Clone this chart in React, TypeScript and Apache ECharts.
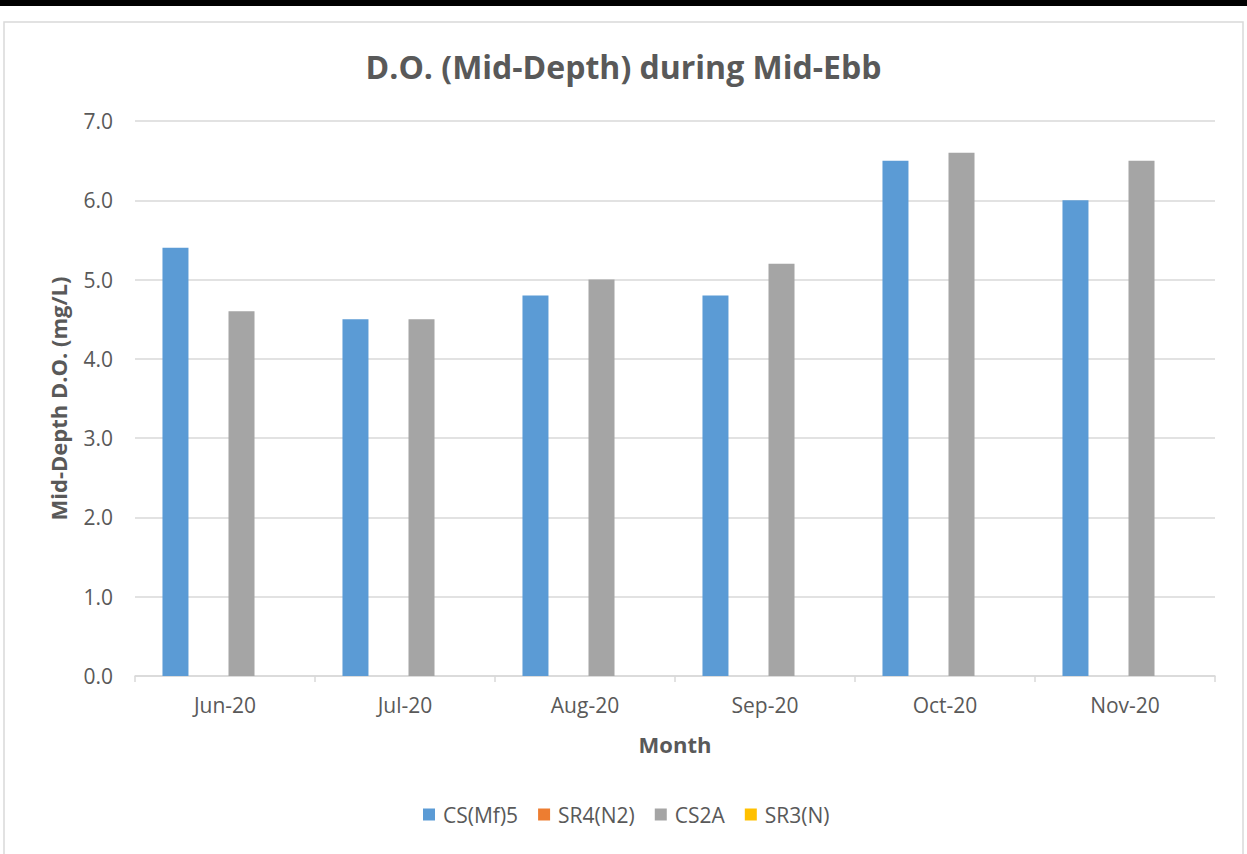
import React, { useEffect, useRef } from "react";
import * as echarts from "echarts";

const months = ["Jun-20", "Jul-20", "Aug-20", "Sep-20", "Oct-20", "Nov-20"];
const csMf5 = [5.4, 4.5, 4.8, 4.8, 6.5, 6.0];
const sr4N2: (number | null)[] = [null, null, null, null, null, null];
const cs2A = [4.6, 4.5, 5.0, 5.2, 6.6, 6.5];
const sr3N: (number | null)[] = [null, null, null, null, null, null];
const yTicks = [0, 1, 2, 3, 4, 5, 6, 7];

const FONT = "Open Sans";
const TXT = "#595959";

export default function App() {
  const ref = useRef<HTMLDivElement>(null);
  useEffect(() => {
    if (!ref.current) return;
    const chart = echarts.init(ref.current, undefined, { renderer: "svg" });
    const mk = (name: string, data: (number | null)[], color: string) => ({
      name,
      type: "bar",
      data,
      barWidth: 26,
      barGap: "27%",
      itemStyle: { color },
    });
    chart.setOption({
      animation: false,
      backgroundColor: "#ffffff",
      textStyle: { fontFamily: FONT },
      graphic: [
        { type: "rect", shape: { x: 0, y: 0, width: 1247, height: 6 }, style: { fill: "#000000" } },
        {
          type: "rect",
          shape: { x: 4, y: 22, width: 1239, height: 900 },
          style: { fill: "none", stroke: "#d9d9d9", lineWidth: 1.5 },
        },
      ],
      title: {
        text: "D.O. (Mid-Depth) during Mid-Ebb",
        left: "center",
        top: 45,
        textStyle: { fontFamily: FONT, fontSize: 32, fontWeight: "bold", color: TXT },
      },
      legend: {
        bottom: 24,
        left: 418,
        itemWidth: 12,
        itemHeight: 12,
        itemGap: 20,
        icon: "rect",
        textStyle: { fontFamily: FONT, fontSize: 21, color: TXT, padding: [0, 0, 0, 3] },
        data: ["CS(Mf)5", "SR4(N2)", "CS2A", "SR3(N)"],
      },
      grid: { left: 135, right: 32, top: 121, bottom: 178, containLabel: false },
      xAxis: {
        type: "category",
        data: months,
        name: "Month",
        nameLocation: "middle",
        nameGap: 57,
        nameTextStyle: { fontFamily: FONT, fontSize: 22, fontWeight: "bold", color: TXT },
        axisLine: { lineStyle: { color: "#d9d9d9", width: 1.5 } },
        axisTick: { show: true, length: 6, lineStyle: { color: "#d9d9d9", width: 1.5 } },
        axisLabel: { fontFamily: FONT, fontSize: 21, color: TXT, margin: 18 },
      },
      yAxis: {
        type: "value",
        min: 0,
        max: 7,
        interval: 1,
        name: "Mid-Depth D.O. (mg/L)",
        nameLocation: "middle",
        nameGap: 66,
        nameRotate: 90,
        nameTextStyle: { fontFamily: FONT, fontSize: 22, fontWeight: "bold", color: TXT },
        axisLine: { show: false },
        axisTick: { show: false },
        splitLine: { lineStyle: { color: "#d9d9d9", width: 1.5 } },
        axisLabel: {
          fontFamily: FONT,
          fontSize: 21,
          color: TXT,
          margin: 22,
          formatter: (v: number) => (yTicks.includes(v) ? v.toFixed(1) : ""),
        },
      },
      series: [
        mk("CS(Mf)5", csMf5, "#5b9bd5"),
        mk("SR4(N2)", sr4N2, "#ed7d31"),
        mk("CS2A", cs2A, "#a5a5a5"),
        mk("SR3(N)", sr3N, "#ffc000"),
      ],
    });
    return () => chart.dispose();
  }, []);
  return (
    <div
      ref={ref}
      style={{ position: "fixed", left: 0, top: 0, width: 1247, height: 854, background: "#fff" }}
    />
  );
}
